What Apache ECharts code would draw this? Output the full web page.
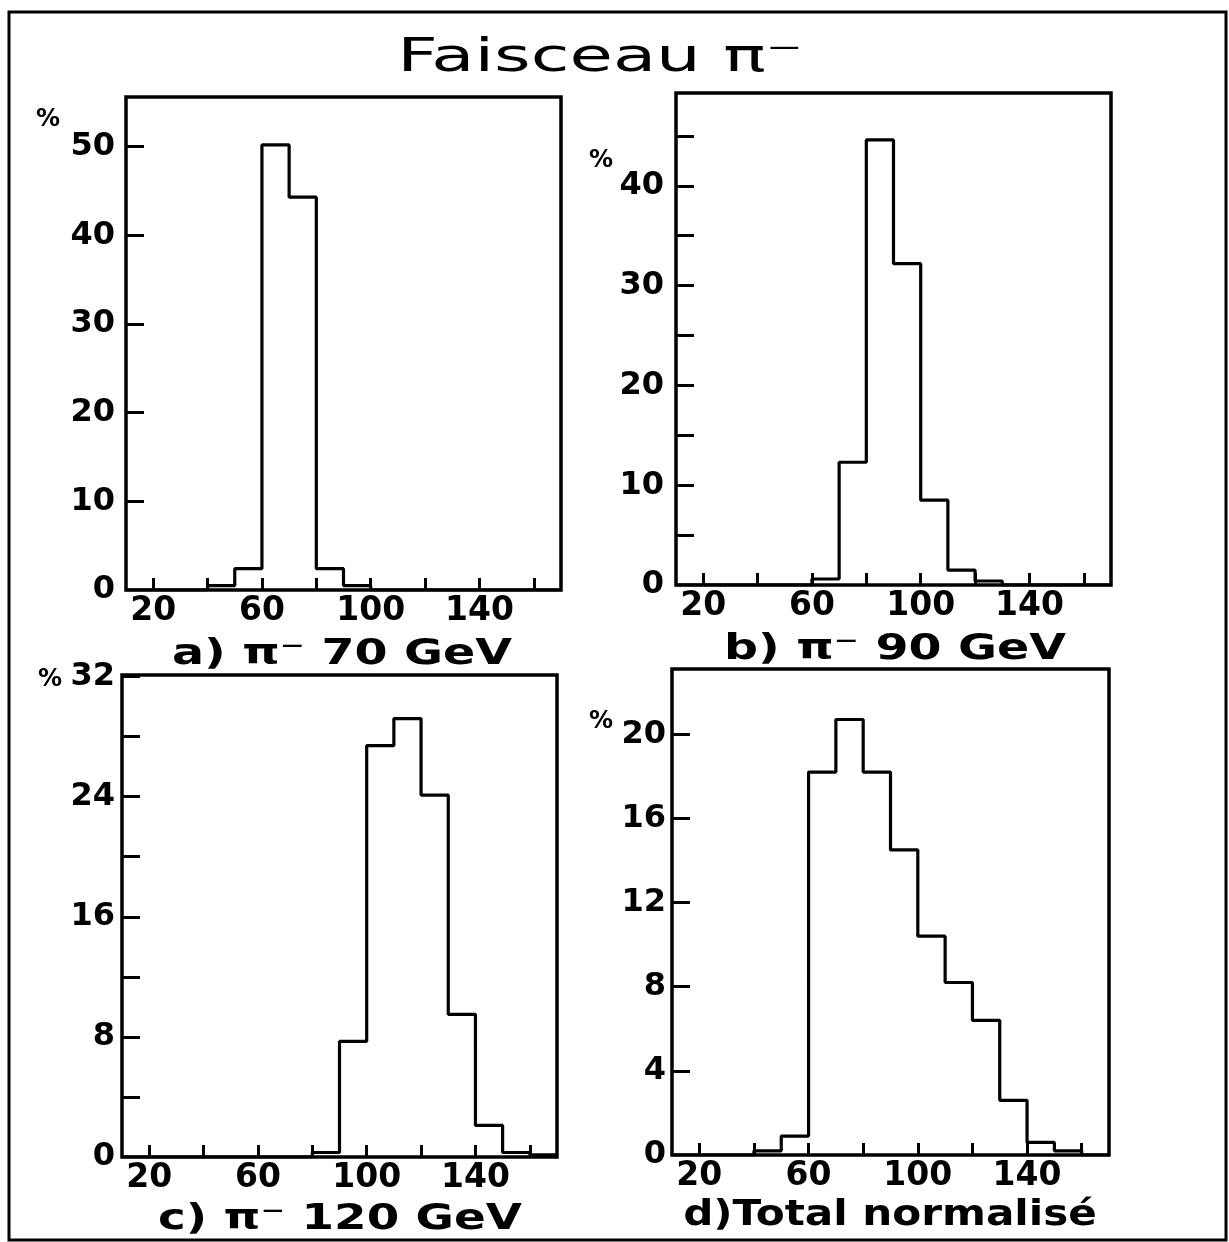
<!DOCTYPE html>
<html>
<head>
<meta charset="utf-8">
<script src="https://cdn.jsdelivr.net/npm/echarts@6/dist/echarts.min.js"></script>
<style>
html,body{margin:0;padding:0;background:#fff;}
#chart{width:1229px;height:1242px;}
</style>
</head>
<body>
<div id="chart"></div>
<script>
// ---- Data ----
const binStarts = [10, 20, 30, 40, 50, 60, 70, 80, 90, 100, 110, 120, 130, 140, 150, 160];
const binWidth = 10;
const valuesA = [0, 0, 0, 0.5, 2.4, 50.2, 44.3, 2.4, 0.5, 0, 0, 0, 0, 0, 0, 0];
const valuesB = [0, 0, 0, 0, 0, 0.6, 12.3, 44.6, 32.2, 8.5, 1.5, 0.4, 0, 0, 0, 0];
const valuesC = [0, 0, 0, 0, 0, 0, 0, 0.3, 7.7, 27.4, 29.2, 24.1, 9.5, 2.1, 0.3, 0.15];
const valuesD = [0, 0, 0, 0.2, 0.9, 18.2, 20.7, 18.2, 14.5, 10.4, 8.2, 6.4, 2.6, 0.6, 0.2, 0];

const xTicks = [20, 40, 60, 80, 100, 120, 140, 160];
const xLabels = [20, 60, 100, 140];
const yTicksA = [10, 20, 30, 40, 50];
const yLabelsA = [0, 10, 20, 30, 40, 50];
const yTicksB = [5, 10, 15, 20, 25, 30, 35, 40, 45];
const yLabelsB = [0, 10, 20, 30, 40];
const yTicksC = [4, 8, 12, 16, 20, 24, 28, 32];
const yLabelsC = [0, 8, 16, 24, 32];
const yTicksD = [4, 8, 12, 16, 20];
const yLabelsD = [0, 4, 8, 12, 16, 20];

const titleText = 'Faisceau π⁻';
const captions = ['a) π⁻ 70 GeV', 'b) π⁻ 90 GeV', 'c) π⁻ 120 GeV', 'd)Total normalisé'];

// ---- Layout ----
const panels = [
  {values: valuesA, yTicks: yTicksA, yLabels: yLabelsA, yMax: 55.6, grid: {left: 126, top: 97, width: 435, height: 493}, yMargin: 11},
  {values: valuesB, yTicks: yTicksB, yLabels: yLabelsB, yMax: 49.3, grid: {left: 676, top: 93, width: 435, height: 492}, yMargin: 12},
  {values: valuesC, yTicks: yTicksC, yLabels: yLabelsC, yMax: 32.1, grid: {left: 122, top: 675, width: 435, height: 482}, yMargin: 7},
  {values: valuesD, yTicks: yTicksD, yLabels: yLabelsD, yMax: 23.1, grid: {left: 672, top: 669, width: 437, height: 486}, yMargin: 6}
];

const FONT = '"DejaVu Sans", "Liberation Sans", sans-serif';

function stepPoints(vals) {
  const pts = binStarts.map((x, i) => [x, vals[i]]);
  const last = binStarts.length - 1;
  pts.push([binStarts[last] + binWidth, vals[last]]);
  return pts;
}

const grids = [], xAxes = [], yAxes = [], series = [];
panels.forEach((p, i) => {
  grids.push(Object.assign({
    show: true, borderColor: '#000', borderWidth: 3.5, backgroundColor: 'transparent',
    outerBoundsMode: 'none'
  }, p.grid));
  xAxes.push({
    type: 'value', gridIndex: i, min: 10, max: 170,
    axisLine: {show: false},
    splitLine: {show: false},
    axisTick: {show: true, inside: true, length: 12, customValues: xTicks, lineStyle: {color: '#000', width: 3}},
    axisLabel: {show: true, customValues: xLabels, margin: 5, color: '#000',
      fontFamily: FONT, fontWeight: 'bold', fontSize: 33}
  });
  yAxes.push({
    type: 'value', gridIndex: i, min: 0, max: p.yMax,
    axisLine: {show: false},
    splitLine: {show: false},
    axisTick: {show: true, inside: true, length: 18, customValues: p.yTicks, lineStyle: {color: '#000', width: 3}},
    axisLabel: {show: true, customValues: p.yLabels, margin: p.yMargin, color: '#000',
      fontFamily: FONT, fontWeight: 'bold', fontSize: 32}
  });
  series.push({
    type: 'line', xAxisIndex: i, yAxisIndex: i, step: 'end', symbol: 'none',
    data: stepPoints(p.values),
    lineStyle: {color: '#000', width: 3.2}, silent: true, animation: false
  });
});

const captionPos = [[342, 655, 1.32], [895, 650, 1.32], [340, 1220, 1.3], [890, 1216, 1.17]];
const percentPos = [[48, 120], [601, 161], [50, 680], [601, 722]];

const graphics = [
  {type: 'rect', shape: {x: 9, y: 12, width: 1217, height: 1228},
    style: {fill: 'none', stroke: '#000', lineWidth: 3}, silent: true},
  {type: 'text', x: 600, y: 59, scaleX: 1.5,
    style: {text: titleText, font: 'normal 47px ' + FONT, fill: '#000', textAlign: 'center', textVerticalAlign: 'middle'}}
];
captions.forEach((c, i) => {
  graphics.push({type: 'text', x: captionPos[i][0], y: captionPos[i][1], scaleX: captionPos[i][2],
    style: {text: c, font: 'bold 36px ' + FONT, fill: '#000', textAlign: 'center', textVerticalAlign: 'middle'}});
});
percentPos.forEach(pp => {
  graphics.push({type: 'text', x: pp[0], y: pp[1],
    style: {text: '%', font: 'bold 24px ' + FONT, fill: '#000', textAlign: 'center', textVerticalAlign: 'middle'}});
});

const chart = echarts.init(document.getElementById('chart'), null, {renderer: 'canvas'});
chart.setOption({
  animation: false,
  backgroundColor: '#fff',
  grid: grids,
  xAxis: xAxes,
  yAxis: yAxes,
  series: series,
  graphic: graphics
});
</script>
</body>
</html>
